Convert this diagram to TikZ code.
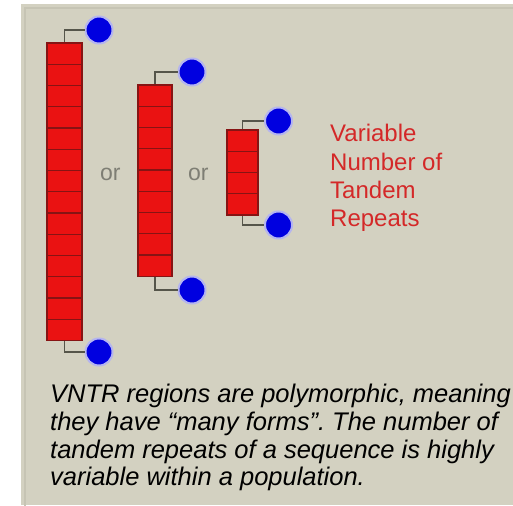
\documentclass[tikz,border=0pt]{standalone}
\usepackage{fontspec}
\setmainfont{Liberation Sans}
\frenchspacing
\definecolor{panel}{HTML}{D3D1C1}
\definecolor{panelrim}{HTML}{C6C4B4}
\definecolor{unitred}{HTML}{EA1212}
\definecolor{unitedge}{HTML}{861414}
\definecolor{dotblue}{HTML}{0000E0}
\definecolor{dothalo}{HTML}{B4B4F0}
\definecolor{linkgrey}{HTML}{55554A}
\definecolor{labelred}{HTML}{D42828}
\definecolor{orgrey}{HTML}{7E7E74}
\tikzset{
  unit/.style={rectangle, draw=unitedge, fill=unitred, line width=1.1pt,
    minimum height=21.25pt, inner sep=0pt},
  dot/.style={circle, fill=dotblue, draw=dothalo, line width=2pt,
    minimum size=27pt, inner sep=0pt},
  link/.style={draw=linkgrey, line width=1.6pt},
  redlabel/.style={anchor=base west, inner sep=0pt, text=labelred,
    font=\fontsize{24}{28}\selectfont},
  orlabel/.style={anchor=base west, inner sep=0pt, text=orgrey,
    font=\fontsize{23}{28}\selectfont},
  caption/.style={anchor=base west, inner sep=0pt, text=black,
    font=\fontsize{25.5}{28}\selectfont\itshape}
}
\begin{document}
\begin{tikzpicture}[x=1pt,y=-1pt]
\useasboundingbox (0,0) rectangle (513,505);
\fill[white] (0,0) rectangle (513,505);
% background panel with a thin inner rim
\fill[panel] (21,4) rectangle (513,505);
\draw[panelrim, line width=1.5pt] (25,509) -- (25,8) -- (513,8);

% long allele: 14 repeat units
\foreach \i in {0,...,13}
  \node[unit, minimum width=35pt] (L\i) at (64.5,{43+21.25*\i+10.625}) {};
% medium allele: 9 repeat units
\foreach \i in {0,...,8}
  \node[unit, minimum width=34pt] (M\i) at (155,{85+21.25*\i+10.625}) {};
% short allele: 4 repeat units
\foreach \i in {0,...,3}
  \node[unit, minimum width=31pt] (R\i) at (242.5,{130+21.25*\i+10.625}) {};

% flanking ends
\node[dot] (Lt) at (99,30) {};
\node[dot] (Lb) at (99,352) {};
\node[dot] (Mt) at (192,72) {};
\node[dot] (Mb) at (192,290) {};
\node[dot] (Rt) at (278.5,121) {};
\node[dot] (Rb) at (278.5,225) {};

\draw[link] (L0.north) |- (Lt.west);
\draw[link] (L13.south) |- (Lb.west);
\draw[link] (M0.north) |- (Mt.west);
\draw[link] (M8.south) |- (Mb.west);
\draw[link] (R0.north) |- (Rt.west);
\draw[link] (R3.south) |- (Rb.west);

% separators between the alleles
\node[orlabel] (or1) at (100,180) {or};
\node[orlabel] (or2) at (188,180) {or};

% label
\node[redlabel] (v1) at (330,142) {Variable};
\node[redlabel] (v2) at (330,170) {Number of};
\node[redlabel] (v3) at (330,198) {Tandem};
\node[redlabel] (v4) at (330,226) {Repeats};

% explanatory text
\node[caption] (c1) at (50,402) {VNTR regions are polymorphic, meaning};
\node[caption] (c2) at (50,430) {they have “many forms”. The number of};
\node[caption] (c3) at (50,458) {tandem repeats of a sequence is highly};
\node[caption] (c4) at (50,485) {variable within a population.};
\end{tikzpicture}
\end{document}
